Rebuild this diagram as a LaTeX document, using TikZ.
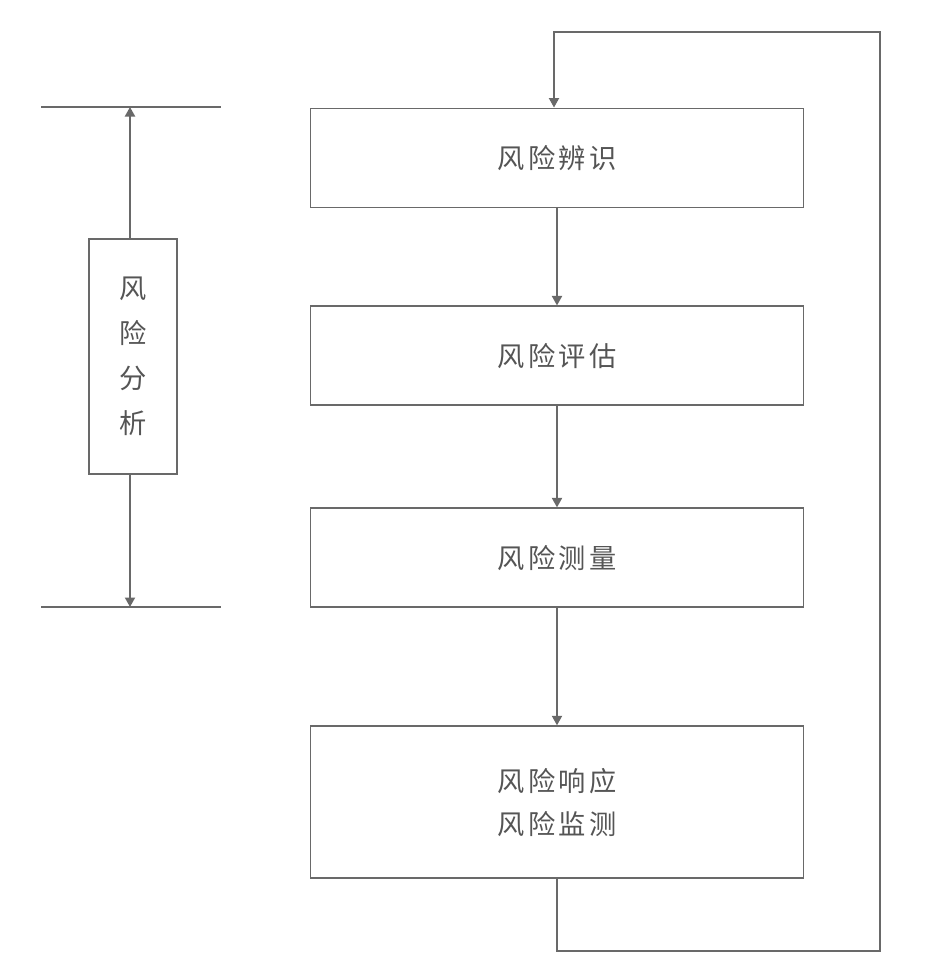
\documentclass[tikz,border=0pt]{standalone}
\usepackage{fontspec}
\newfontfamily\cjk[LetterSpace=12]{Noto Sans CJK SC}
\usepackage{tikz}
\usetikzlibrary{positioning,arrows.meta}
\definecolor{rkLine}{RGB}{105,105,105}
\definecolor{rkText}{RGB}{85,85,85}
\tikzset{
    base/.style={font=\cjk\fontsize{15.5}{24.5}\selectfont, align=center, text=rkText},
    stage/.style={base, rectangle, draw=rkLine, line width=1.1pt, fill=white,
                  minimum width=9.86cm, minimum height=1.98cm},
    side/.style={base, rectangle, draw=rkLine, line width=1.1pt, fill=white,
                 minimum width=1.76cm, minimum height=4.7cm, font=\cjk\fontsize{15.5}{25.5}\selectfont},
    flow/.style={-{Triangle[length=1.9mm,width=2mm]}, line width=1.1pt, color=rkLine},
    rule/.style={line width=1.1pt, color=rkLine}
}
\begin{document}
\begin{tikzpicture}
  \useasboundingbox (0,0) rectangle (18.74,-19.56);

  % main chain
  \node[stage] (ident) at (11.14,-3.16) {风险辨识};
  \node[stage] (assess) [below=1.94cm of ident] {风险评估};
  \node[stage] (measure) [below=2.02cm of assess] {风险测量};
  \node[stage, minimum height=3.04cm] (respond) [below=2.34cm of measure] {风险响应\\风险监测};

  \draw[flow] (ident) -- (assess);
  \draw[flow] (assess) -- (measure);
  \draw[flow] (measure) -- (respond);

  % feedback loop
  \coordinate (loopBR) at (17.6,-19.02);
  \coordinate (loopTR) at (17.6,-0.64);
  \draw[flow] (respond.south) |- (loopBR) -- (loopTR) -| ([xshift=-0.06cm]ident.north);

  % analysis bracket
  \node[side] (analysis) at (2.66,-7.13) {风\\险\\分\\析};
  \coordinate (topL) at (0.82,-2.14);
  \coordinate (topR) at (4.42,-2.14);
  \coordinate (botL) at (0.82,-12.14);
  \coordinate (botR) at (4.42,-12.14);
  \draw[rule] (topL) -- (topR);
  \draw[rule] (botL) -- (botR);
  \draw[flow] ([xshift=-0.06cm]analysis.north) -- ([xshift=-0.06cm]analysis.north |- topL);
  \draw[flow] ([xshift=-0.06cm]analysis.south) -- ([xshift=-0.06cm]analysis.south |- botL);
\end{tikzpicture}
\end{document}
